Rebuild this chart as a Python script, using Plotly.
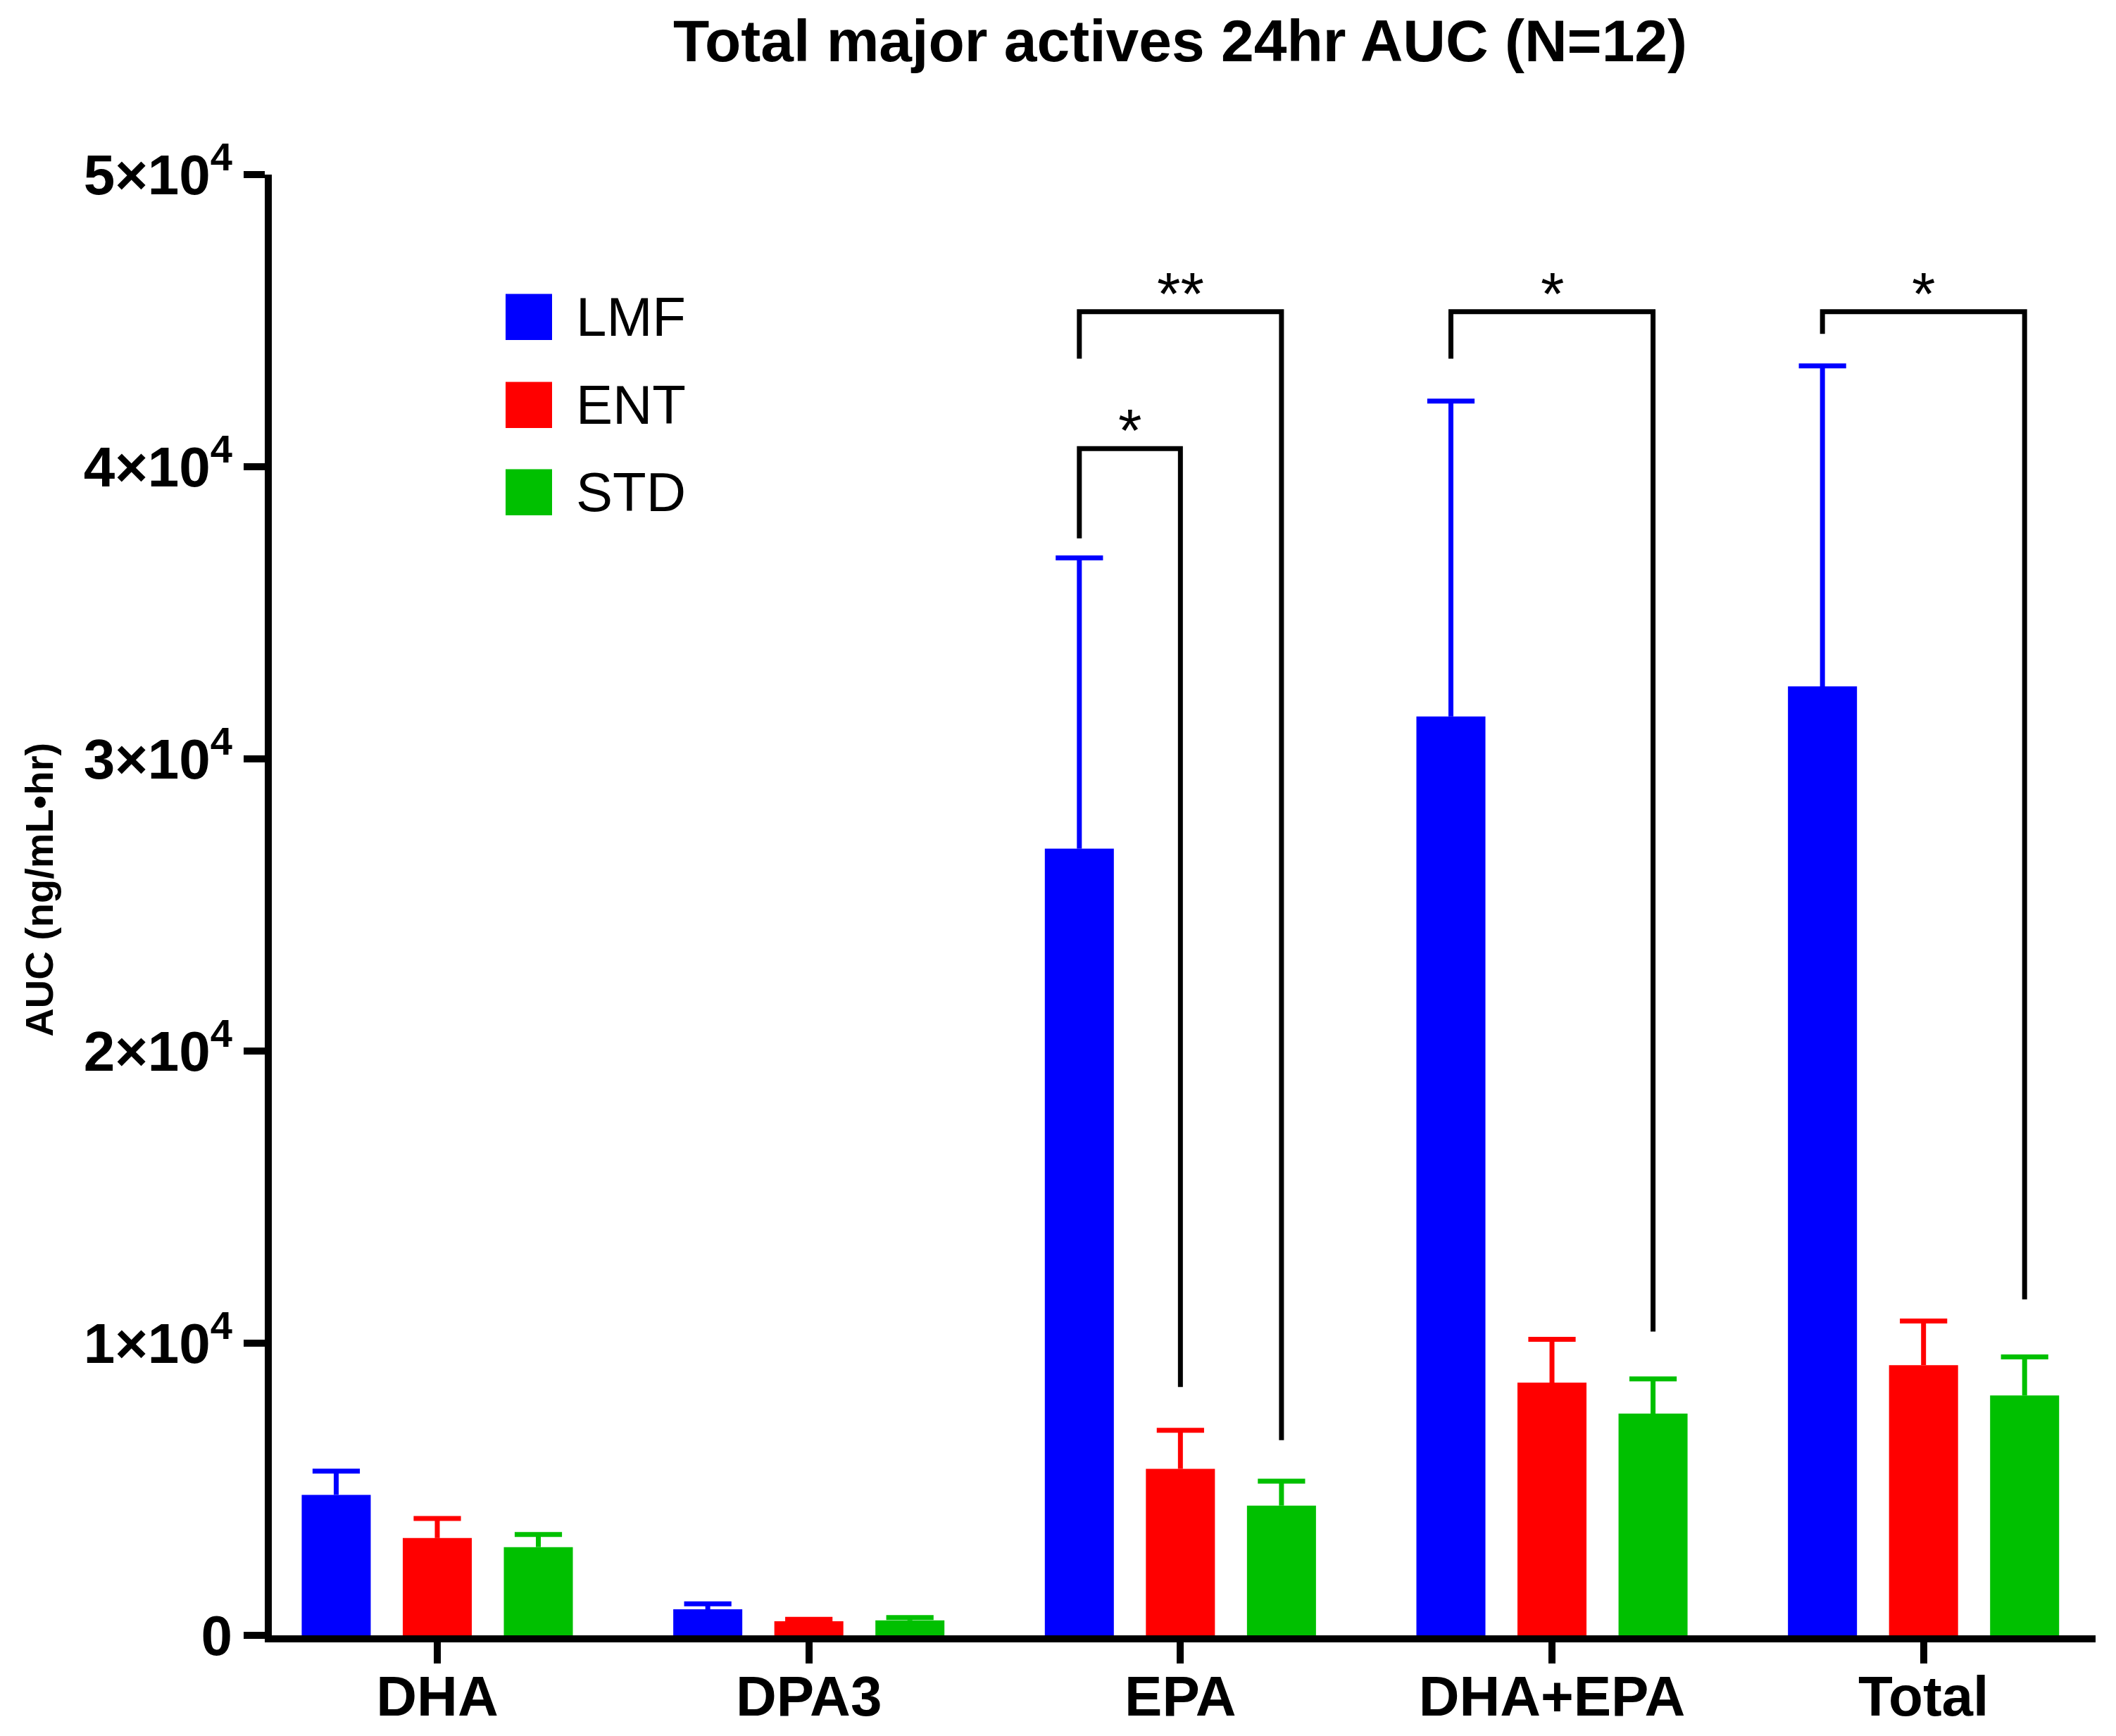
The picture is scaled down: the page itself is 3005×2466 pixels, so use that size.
import plotly.graph_objects as go

# ---------------- data ----------------
categories = ["DHA", "DPA3", "EPA", "DHA+EPA", "Total"]
series_names = ["LMF", "ENT", "STD"]
lmf_mean = [4810, 890, 26930, 31450, 32480]
lmf_sd = [810, 190, 9950, 10800, 10970]
ent_mean = [3330, 480, 5700, 8650, 9250]
ent_sd = [670, 70, 1320, 1480, 1510]
std_mean = [3020, 510, 4440, 7590, 8210]
std_sd = [430, 100, 840, 1190, 1320]
colors = ["#0000FF", "#FF0000", "#00C000"]

y_tickvals = [0, 10000, 20000, 30000, 40000, 50000]
y_ticktext = ["0", "1×10<sup>4</sup>", "2×10<sup>4</sup>", "3×10<sup>4</sup>",
              "4×10<sup>4</sup>", "5×10<sup>4</sup>"]

# significance brackets: category, from series, to series, bar height, left end, right end, label
brackets = [
    ("EPA", "LMF", "STD", 45310, 43700, 6680, "**"),
    ("EPA", "LMF", "ENT", 40620, 37550, 8500, "*"),
    ("DHA+EPA", "LMF", "STD", 45310, 43700, 10400, "*"),
    ("Total", "LMF", "STD", 45310, 44550, 11500, "*"),
]

title_text = "Total major actives 24hr AUC (N=12)"
y_title = "AUC (ng/mL•hr)"

# ---------------- layout constants ----------------
W, H = 3005, 2466
ML, MR, MT, MB = 386, 29, 248, 126
FONT = "Liberation Sans, Arial, sans-serif"
BARGAP = 0.184
BARGROUPGAP = 0.317
slot = (1 - BARGAP) / 3
plot_w = W - ML - MR
plot_h = H - MT - MB
x_range = [-(621 - ML) / 527.7, len(categories) - 1 + 0.463]

fig = go.Figure()
means = [lmf_mean, ent_mean, std_mean]
sds = [lmf_sd, ent_sd, std_sd]
for name, m, c in zip(series_names, means, colors):
    fig.add_trace(go.Bar(
        name=name, x=categories, y=m,
        marker=dict(color=c, line=dict(width=0)),
        showlegend=False, hoverinfo="skip",
    ))


def xpos(cat_idx, ser_idx):
    return cat_idx + (ser_idx - 1) * slot


# one-sided (upward) SD error bars on an overlaid numeric x axis
for k, (m, s, c) in enumerate(zip(means, sds, colors)):
    xs, ys = [], []
    for i in range(len(categories)):
        xi = xpos(i, k)
        xs += [xi, xi, None]
        ys += [m[i], m[i] + s[i], None]
    fig.add_trace(go.Scatter(x=xs, y=ys, xaxis="x2", yaxis="y", mode="lines",
                             line=dict(color=c, width=7), showlegend=False,
                             hoverinfo="skip"))
    fig.add_trace(go.Scatter(x=[xpos(i, k) for i in range(len(categories))],
                             y=[m[i] + s[i] for i in range(len(categories))],
                             xaxis="x2", yaxis="y", mode="markers",
                             marker=dict(symbol="line-ew", size=48, color=c,
                                         line=dict(color=c, width=7)),
                             showlegend=False, hoverinfo="skip"))

shapes = []
annotations = []
for cat, s1, s2, top, lend, rend, lab in brackets:
    x1 = xpos(categories.index(cat), series_names.index(s1))
    x2 = xpos(categories.index(cat), series_names.index(s2))
    shapes.append(dict(
        type="path", xref="x2", yref="y",
        path=f"M {x1},{lend} L {x1},{top} L {x2},{top} L {x2},{rend}",
        line=dict(color="black", width=7), fillcolor="rgba(0,0,0,0)",
    ))
    annotations.append(dict(
        x=(x1 + x2) / 2, y=top, xref="x2", yref="y", text=lab, showarrow=False,
        xanchor="center", yanchor="middle", yshift=26,
        font=dict(family=FONT, size=86, color="black"),
    ))

# custom legend (large square swatches), positioned in pixels from the top
leg_x0 = (718 - ML) / plot_w
leg_x1 = (784 - ML) / plot_w
leg_tx = (816 - ML) / plot_w
leg_top = [419, 545, 670]
for name, c, t in zip(series_names, colors, leg_top):
    y0 = (H - MB - (t + 66)) / plot_h
    y1 = (H - MB - t) / plot_h
    shapes.append(dict(type="rect", xref="paper", yref="paper",
                       x0=leg_x0, x1=leg_x1, y0=y0, y1=y1,
                       fillcolor=c, line=dict(width=0)))
    annotations.append(dict(x=leg_tx, y=(y0 + y1) / 2, xref="paper", yref="paper",
                            text=name, showarrow=False, xanchor="left", yanchor="middle",
                            font=dict(family=FONT, size=78, color="black")))

# y-axis title
annotations.append(dict(x=(56 - ML) / plot_w, y=(H - MB - 1272) / plot_h,
                        xref="paper", yref="paper", text=y_title, textangle=-90,
                        showarrow=False, xanchor="center", yanchor="middle",
                        font=dict(family=FONT, size=56, color="black", weight="bold")))

fig.update_layout(
    width=W, height=H, autosize=False,
    margin=dict(l=ML, r=MR, t=MT, b=MB, pad=0),
    paper_bgcolor="white", plot_bgcolor="white",
    barmode="group", bargap=BARGAP, bargroupgap=BARGROUPGAP,
    title=dict(text=title_text, x=(1676 - ML) / plot_w, xref="paper", xanchor="center",
               y=1 - 58 / H, yref="container", yanchor="middle",
               font=dict(family=FONT, size=84, color="black", weight="bold")),
    shapes=shapes, annotations=annotations,
    xaxis=dict(
        type="category", categoryorder="array", categoryarray=categories,
        range=x_range,
        showline=True, linecolor="black", linewidth=10, mirror=False,
        ticks="outside", ticklen=30, tickwidth=10, tickcolor="black",
        ticklabelstandoff=-22,
        showgrid=False, zeroline=False,
        tickfont=dict(family=FONT, size=80, color="black", weight="bold"),
    ),
    xaxis2=dict(
        type="linear", overlaying="x", range=x_range, visible=False,
        showgrid=False, zeroline=False, fixedrange=True,
    ),
    yaxis=dict(
        range=[0, 50000], tickvals=y_tickvals, ticktext=y_ticktext,
        showline=True, linecolor="black", linewidth=10,
        ticks="outside", ticklen=30, tickwidth=10, tickcolor="black",
        showgrid=False, zeroline=False,
        tickfont=dict(family=FONT, size=80, color="black", weight="bold"),
    ),
)

fig.write_html("out.html", config={"displayModeBar": False},
               post_script="document.body.style.margin='0px';")
